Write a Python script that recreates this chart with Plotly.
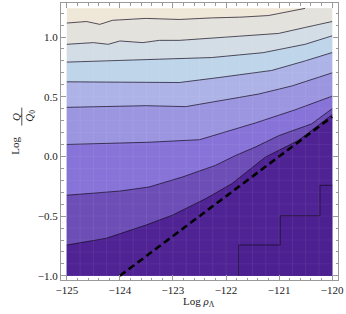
import numpy as np
import plotly.graph_objects as go

# ---- data (x = Log rho_Lambda, y = Log Q/Q0) ----
X_MIN, X_MAX = -125.0, -120.0
Y_MIN, Y_MAX = -1.0, 1.24

c1_x = [-125.0, -124.63, -124.38, -124.14, -123.51, -122.88, -122.27, -121.70, -121.20, -120.51]
c1_y = [1.117, 1.13, 1.106, 1.14, 1.156, 1.147, 1.16, 1.167, 1.18, 1.24]

c2_x = [-125.0, -124.5, -124.22, -124.0, -123.57, -123.26, -122.88, -122.27, -121.63, -121.01, -120.51, -120.0]
c2_y = [0.939, 0.953, 0.939, 0.967, 0.953, 0.972, 0.972, 0.989, 1.008, 1.03, 1.08, 1.13]

c3_x = [-125.0, -123.51, -122.27, -121.3, -120.51, -120.0]
c3_y = [0.79, 0.814, 0.828, 0.869, 0.939, 1.01]

c4_x = [-125.0, -122.88, -122.13, -121.14, -120.51, -120.0]
c4_y = [0.625, 0.619, 0.661, 0.72, 0.80, 0.87]

c5_x = [-125.0, -123.51, -122.76, -122.13, -121.39, -120.76, -120.0]
c5_y = [0.411, 0.425, 0.417, 0.467, 0.522, 0.59, 0.70]

c6_x = [-125.0, -124.0, -123.45, -122.5, -121.95, -121.45, -120.7, -120.0]
c6_y = [0.10, 0.11, 0.119, 0.14, 0.215, 0.28, 0.39, 0.505]

c7_x = [-125.0, -124.5, -124.0, -123.45, -122.82, -122.2, -121.82, -121.45, -121.0, -120.39, -120.0]
c7_y = [-0.325, -0.31, -0.29, -0.256, -0.172, -0.075, 0.008, 0.078, 0.175, 0.272, 0.40]

c8_x = [-125.0, -124.26, -123.51, -123.01, -122.38, -121.89, -121.26, -120.64, -120.39, -120.0]
c8_y = [-0.742, -0.686, -0.575, -0.492, -0.353, -0.228, -0.006, 0.133, 0.217, 0.35]

stair_x = [-121.76, -121.76, -120.98, -120.98, -120.23, -120.23, -120.0]
stair_y = [-1.0, -0.742, -0.742, -0.497, -0.497, -0.242, -0.242]

dashed_x = [-124.0, -120.0]
dashed_y = [-1.0, 0.333]

region_colors = ["#efe7d8", "#e3e2dc", "#d3dde5", "#bed5ea", "#adb3e7",
                 "#9c96e1", "#8873d8", "#6d4eb6", "#4f2394", "#4c2090"]

x_ticks = [-125, -124, -123, -122, -121, -120]
y_ticks = [-1.0, -0.5, 0.0, 0.5, 1.0]

contours = [(c1_x, c1_y), (c2_x, c2_y), (c3_x, c3_y), (c4_x, c4_y),
            (c5_x, c5_y), (c6_x, c6_y), (c7_x, c7_y), (c8_x, c8_y)]

fig = go.Figure()

# top region: whole rectangle
fig.add_trace(go.Scatter(x=[X_MIN, X_MAX, X_MAX, X_MIN, X_MIN],
                         y=[Y_MIN, Y_MIN, Y_MAX, Y_MAX, Y_MIN],
                         fill="toself", fillcolor=region_colors[0],
                         mode="lines", line=dict(width=0), hoverinfo="skip",
                         showlegend=False))

# area below each contour, painted from top to bottom
for k, (cx, cy) in enumerate(contours):
    px = list(cx)
    py = list(cy)
    if px[-1] < X_MAX:
        px.append(X_MAX)
        py.append(Y_MAX)
    px += [X_MAX, X_MIN, px[0]]
    py += [Y_MIN, Y_MIN, py[0]]
    fig.add_trace(go.Scatter(x=px, y=py, fill="toself",
                             fillcolor=region_colors[k + 1], mode="lines",
                             line=dict(width=0), hoverinfo="skip",
                             showlegend=False))

# staircase region (lowest level)
sx = list(stair_x) + [X_MAX, stair_x[0]]
sy = list(stair_y) + [Y_MIN, stair_y[0]]
fig.add_trace(go.Scatter(x=sx, y=sy, fill="toself", fillcolor=region_colors[9],
                         mode="lines", line=dict(width=0), hoverinfo="skip",
                         showlegend=False))

# contour lines
for cx, cy in contours + [(stair_x, stair_y)]:
    fig.add_trace(go.Scatter(x=cx, y=cy, mode="lines",
                             line=dict(color="rgba(20,10,30,0.7)", width=1),
                             hoverinfo="skip", showlegend=False))

# dashed line
fig.add_trace(go.Scatter(x=dashed_x, y=dashed_y, mode="lines",
                         line=dict(color="black", width=2.6, dash="7px,4px"),
                         hoverinfo="skip", showlegend=False))

# faint mesh lines over the shading
shapes = []
for gx in np.arange(X_MIN + 0.25, X_MAX, 0.25):
    shapes.append(dict(type="line", xref="x", yref="y", x0=gx, x1=gx, y0=Y_MIN, y1=Y_MAX,
                       line=dict(color="rgba(255,255,255,0.07)", width=1), layer="above"))
for gy in np.arange(Y_MIN + 0.1, Y_MAX, 0.1):
    shapes.append(dict(type="line", xref="x", yref="y", x0=X_MIN, x1=X_MAX, y0=gy, y1=gy,
                       line=dict(color="rgba(255,255,255,0.05)", width=1), layer="above"))

# fraction bar of the y label
L, T, W, H = 61, 2, 279, 278
def pxp(xp):
    return (xp - L) / W
def pyp(yp):
    return (T + H - yp) / H

shapes.append(dict(type="line", xref="paper", yref="paper",
                   x0=pxp(21.5), x1=pxp(21.5), y0=pyp(107), y1=pyp(125),
                   line=dict(color="#222", width=0.8)))

FONT = "Liberation Serif, Times New Roman, serif"
annotations = [
    dict(text="Log <i>ρ</i><sub>Λ</sub>", x=pxp(200), y=pyp(302), xref="paper", yref="paper",
         showarrow=False, font=dict(family=FONT, size=11, color="#222"),
         xanchor="center", yanchor="middle"),
    dict(text="Log", x=pxp(15), y=pyp(145), xref="paper", yref="paper", textangle=-90,
         showarrow=False, font=dict(family=FONT, size=11, color="#222"),
         xanchor="center", yanchor="middle"),
    dict(text="<i>Q</i>", x=pxp(15), y=pyp(116), xref="paper", yref="paper", textangle=-90,
         showarrow=False, font=dict(family=FONT, size=11, color="#222"),
         xanchor="center", yanchor="middle"),
    dict(text="<i>Q</i><sub>0</sub>", x=pxp(29), y=pyp(115), xref="paper", yref="paper", textangle=-90,
         showarrow=False, font=dict(family=FONT, size=11, color="#222"),
         xanchor="center", yanchor="middle"),
]

axis_common = dict(showgrid=False, zeroline=False, showline=True, linecolor="#9a9a9a",
                   linewidth=1, mirror="ticks", ticks="inside", tickcolor="#9a9a9a",
                   ticklen=5, tickwidth=1,
                   tickfont=dict(family=FONT, size=11, color="#222"))

fig.update_xaxes(range=[-125.11, -119.89], tickvals=x_ticks,
                 ticktext=["\u2212" + str(abs(v)) for v in x_ticks],
                 minor=dict(ticks="inside", dtick=0.2, tick0=-125, ticklen=2.5,
                            tickcolor="#9a9a9a", showgrid=False),
                 **axis_common)
fig.update_yaxes(range=[-1.035, 1.285], tickvals=y_ticks,
                 ticktext=[("\u2212" if v < 0 else "") + f"{abs(v):.1f}" for v in y_ticks],
                 minor=dict(ticks="inside", dtick=0.1, tick0=-1.0, ticklen=2.5,
                            tickcolor="#9a9a9a", showgrid=False),
                 **axis_common)

fig.update_layout(width=346, height=314, margin=dict(l=L, r=346 - L - W, t=T, b=314 - T - H),
                  paper_bgcolor="white", plot_bgcolor="white",
                  shapes=shapes, annotations=annotations, showlegend=False)

fig.write_html("out.html", config={"displayModeBar": False, "staticPlot": True},
               post_script="document.body.style.margin='0';document.body.style.overflow='hidden';")
